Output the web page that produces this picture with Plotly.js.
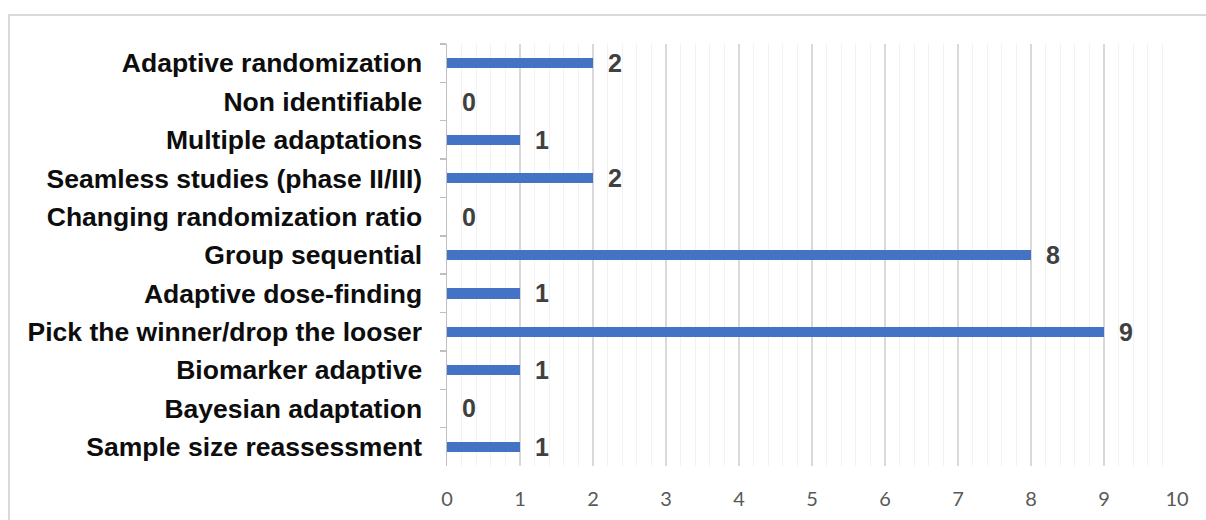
<!DOCTYPE html>
<html>
<head>
<meta charset="utf-8">
<script src="https://cdn.plot.ly/plotly-3.0.1.min.js"></script>
<style>
  html, body { margin: 0; padding: 0; background: #ffffff; }
  #chart { width: 1206px; height: 520px; }
  #frame { position: absolute; left: 8px; top: 14px; width: 1230px; height: 540px;
           border: 2px solid #d9d9d9; pointer-events: none; box-sizing: border-box; }
</style>
</head>
<body>
<div id="chart"></div>
<div id="frame"></div>
<script>
// Adaptive design types, listed top to bottom
const designTypes = [
  "Adaptive randomization",
  "Non identifiable",
  "Multiple adaptations",
  "Seamless studies (phase II/III)",
  "Changing randomization ratio",
  "Group sequential",
  "Adaptive dose-finding",
  "Pick the winner/drop the looser",
  "Biomarker adaptive",
  "Bayesian adaptation",
  "Sample size reassessment"
];
const studyCounts = [2, 0, 1, 2, 0, 8, 1, 9, 1, 0, 1];
const xTickValues = [0, 1, 2, 3, 4, 5, 6, 7, 8, 9, 10];

const SANS = "'Liberation Sans', Arial, sans-serif";

const bars = {
  type: "bar",
  orientation: "h",
  x: studyCounts,
  y: designTypes,
  width: 0.27,
  marker: { color: "#4472C4" },
  hoverinfo: "x+y"
};

// Count labels just right of each bar end
const countLabels = studyCounts.map((v, i) => ({
  x: v,
  y: designTypes[i],
  xref: "x",
  yref: "y",
  text: "<b>" + v + "</b>",
  showarrow: false,
  xanchor: "left",
  yanchor: "middle",
  xshift: 13,
  font: { family: SANS, size: 25, color: "#404040" }
}));

const layout = {
  width: 1206,
  height: 520,
  margin: { l: 447, r: 29, t: 44, b: 54 },
  paper_bgcolor: "#ffffff",
  plot_bgcolor: "#ffffff",
  showlegend: false,
  bargap: 0,
  xaxis: {
    range: [0, 10],
    tickvals: xTickValues,
    ticks: "",
    showgrid: true,
    gridcolor: "#d9d9d9",
    gridwidth: 1.5,
    zeroline: false,
    showline: false,
    ticklabelstandoff: 19,
    tickfont: { family: "Lato", size: 20, color: "#595959" },
    minor: { dtick: 0.2, showgrid: true, gridcolor: "#f2f2f2", gridwidth: 1.2, ticks: "" },
    fixedrange: true
  },
  yaxis: {
    type: "category",
    autorange: "reversed",
    showline: true,
    linecolor: "#bfbfbf",
    linewidth: 1.5,
    ticks: "outside",
    tickson: "boundaries",
    ticklen: 6,
    tickcolor: "#bfbfbf",
    tickwidth: 1.5,
    showgrid: false,
    ticklabelstandoff: 18,
    tickfont: { family: SANS, size: 26.5, color: "#0d0d0d", weight: "bold" },
    fixedrange: true
  },
  annotations: countLabels
};

Plotly.newPlot("chart", [bars], layout, { displayModeBar: false, staticPlot: true });
</script>
</body>
</html>
